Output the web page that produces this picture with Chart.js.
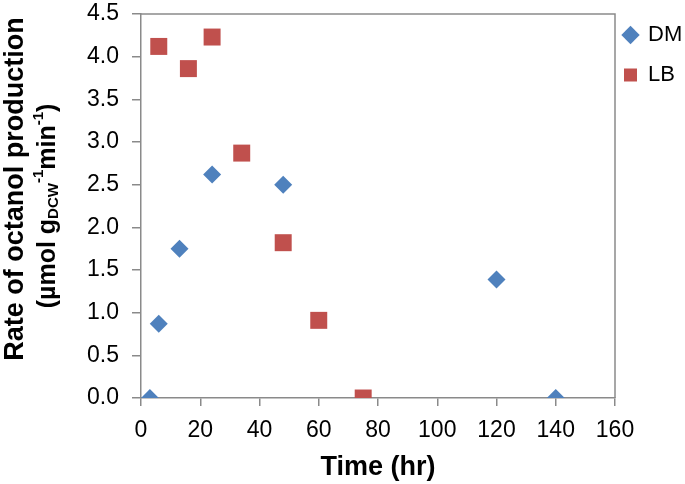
<!DOCTYPE html>
<html>
<head>
<meta charset="utf-8">
<script src="https://cdn.jsdelivr.net/npm/chart.js@4"></script>
<style>
  html, body { margin: 0; padding: 0; background: #fff; }
  #wrap { width: 685px; height: 484px; }
</style>
</head>
<body>
<div id="wrap"><canvas id="chart" width="685" height="484"></canvas></div>
<script>
const seriesNames = ['DM', 'LB'];
const dmTime = [3, 6, 13, 24, 48, 120, 140];
const dmRate = [0, 0.87, 1.75, 2.62, 2.50, 1.39, 0];
const lbTime = [6, 16, 24, 34, 48, 60, 75];
const lbRate = [4.12, 3.86, 4.23, 2.87, 1.82, 0.91, 0];
const xTicks = [0, 20, 40, 60, 80, 100, 120, 140, 160];
const yTicks = [0, 0.5, 1, 1.5, 2, 2.5, 3, 3.5, 4, 4.5];

const FONT = 'Liberation Sans, Arial, Helvetica, sans-serif';
const AXIS = '#8a8a8a';

function toPoints(xs, ys) {
    return xs.map((x, i) => ({ x: x, y: ys[i] }));
}

// nudge the legend box so the markers sit where the original has them
const legendShift = {
    id: 'legendShift',
    afterLayout(chart) {
        const lg = chart.legend;
        if (!lg) return;
        lg.left -= 9;
        lg.top -= 8;
    }
};

// frame around the plot + rotated y title with sub/superscripts
const framePlugin = {
    id: 'frame',
    afterDraw(chart) {
        const { ctx, chartArea: a } = chart;
        ctx.save();
        ctx.strokeStyle = AXIS;
        ctx.lineWidth = 1.5;
        ctx.beginPath();
        ctx.moveTo(a.left, a.top);
        ctx.lineTo(a.right, a.top);
        ctx.lineTo(a.right, a.bottom);
        ctx.stroke();
        ctx.restore();

        // y axis title, first line
        ctx.save();
        ctx.fillStyle = '#000';
        ctx.translate(16, 189);
        ctx.rotate(-Math.PI / 2);
        ctx.textAlign = 'center';
        ctx.textBaseline = 'middle';
        ctx.font = 'bold 27px ' + FONT;
        ctx.fillText('Rate of octanol production', 0, 0);
        ctx.restore();

        // second line, built piece by piece
        const parts = [
            { t: '(µmol g', size: 25, dy: 0 },
            { t: 'DCW', size: 15, dy: 6 },
            { t: '-1', size: 15, dy: -9 },
            { t: 'min', size: 25, dy: 0 },
            { t: '-1', size: 15, dy: -9 },
            { t: ')', size: 25, dy: 0 }
        ];
        ctx.save();
        let total = 0;
        parts.forEach(p => {
            ctx.font = 'bold ' + p.size + 'px ' + FONT;
            p.w = ctx.measureText(p.t).width;
            total += p.w;
        });
        ctx.translate(48, 206);
        ctx.rotate(-Math.PI / 2);
        ctx.textBaseline = 'middle';
        ctx.textAlign = 'left';
        ctx.fillStyle = '#000';
        let cx = -total / 2;
        parts.forEach(p => {
            ctx.font = 'bold ' + p.size + 'px ' + FONT;
            ctx.fillText(p.t, cx, p.dy);
            cx += p.w;
        });
        ctx.restore();
    }
};

new Chart(document.getElementById('chart'), {
    type: 'scatter',
    data: {
        datasets: [
            {
                label: seriesNames[0],
                data: toPoints(dmTime, dmRate),
                pointStyle: 'rectRot',
                pointRadius: 9,
                pointHoverRadius: 9,
                backgroundColor: '#4f81bd',
                borderColor: '#4f81bd',
                borderWidth: 0
            },
            {
                label: seriesNames[1],
                data: toPoints(lbTime, lbRate),
                pointStyle: 'rect',
                pointRadius: 12,
                pointHoverRadius: 12,
                backgroundColor: '#c0504d',
                borderColor: '#c0504d',
                borderWidth: 0
            }
        ]
    },
    options: {
        responsive: false,
        animation: false,
        layout: { padding: { top: 14, left: 0, right: 0, bottom: 0 } },
        plugins: {
            tooltip: { enabled: false },
            legend: {
                position: 'right',
                align: 'start',
                maxWidth: 70,
                labels: {
                    usePointStyle: true,
                    boxHeight: 13,
                    boxWidth: 13,
                    padding: 18,
                    color: '#000',
                    font: { family: FONT, size: 22 }
                }
            }
        },
        scales: {
            x: {
                type: 'linear',
                min: 0,
                max: 160,
                afterBuildTicks: s => { s.ticks = xTicks.map(v => ({ value: v })); },
                afterFit: s => { s.height = 86; s.paddingLeft = 0; s.paddingRight = 0; },
                border: { color: AXIS, width: 1.5 },
                grid: { drawOnChartArea: false, color: AXIS, tickLength: 8, lineWidth: 1.5 },
                ticks: { color: '#000', font: { family: FONT, size: 23 }, padding: 11, maxRotation: 0 },
                title: {
                    display: true,
                    text: 'Time (hr)',
                    color: '#000',
                    font: { family: FONT, size: 27, weight: 'bold' },
                    padding: { top: 4, bottom: 0 }
                }
            },
            y: {
                type: 'linear',
                min: 0,
                max: 4.5,
                afterBuildTicks: s => { s.ticks = yTicks.map(v => ({ value: v })); },
                afterFit: s => { s.width = 141; s.paddingTop = 0; s.paddingBottom = 0; },
                border: { color: AXIS, width: 1.5 },
                grid: { drawOnChartArea: false, color: AXIS, tickLength: 9, lineWidth: 1.5 },
                ticks: {
                    color: '#000',
                    font: { family: FONT, size: 23 },
                    padding: 13,
                    callback: v => v.toFixed(1)
                }
            }
        }
    },
    plugins: [legendShift, framePlugin]
});
</script>
</body>
</html>
